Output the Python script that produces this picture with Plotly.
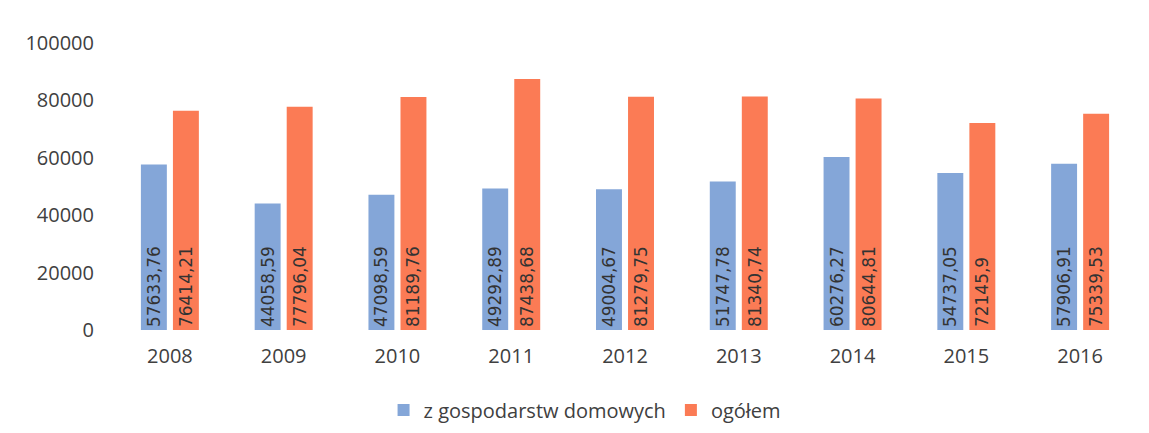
import plotly.graph_objects as go

years = ["2008", "2009", "2010", "2011", "2012", "2013", "2014", "2015", "2016"]
households = [57633.76, 44058.59, 47098.59, 49292.89, 49004.67, 51747.78, 60276.27, 54737.05, 57906.91]
total = [76414.21, 77796.04, 81189.76, 87438.68, 81279.75, 81340.74, 80644.81, 72145.9, 75339.53]
y_ticks = [0, 20000, 40000, 60000, 80000, 100000]

def fmt(v):
    return str(v).replace(".", ",")

label_font = dict(family="DejaVu Sans", size=17, color="#333333")

fig = go.Figure()
fig.add_trace(go.Bar(
    x=years, y=households, name="z gospodarstw domowych",
    marker=dict(color="#84A6D8", line=dict(width=0)),
    text=[fmt(v) for v in households], textposition="inside",
    insidetextanchor="start", textangle=-90, textfont=label_font,
))
fig.add_trace(go.Bar(
    x=years, y=total, name="ogółem",
    marker=dict(color="#FB7B55", line=dict(width=0)),
    text=[fmt(v) for v in total], textposition="inside",
    insidetextanchor="start", textangle=-90, textfont=label_font,
))

fig.update_layout(
    width=1149, height=433,
    margin=dict(l=105, r=20, t=35, b=111),
    paper_bgcolor="white", plot_bgcolor="white",
    barmode="group", bargap=0.437, bargroupgap=0.19,
    font=dict(family="Open Sans", size=20, color="#404040"),
    uniformtext=dict(minsize=10, mode="show"),
    legend=dict(orientation="h", x=0.461, xanchor="center", y=-0.279, yanchor="middle",
                font=dict(size=20, color="#404040"), itemwidth=30),
    showlegend=True,
)
fig.update_xaxes(showgrid=False, showline=False, ticks="", ticklabelstandoff=12,
                 tickfont=dict(size=20, color="#404040"))
fig.update_yaxes(range=[0, 100000], tickvals=y_ticks, ticktext=[str(t) for t in y_ticks],
                 showgrid=False, zeroline=False, showline=False, ticks="", ticklabelstandoff=18,
                 tickfont=dict(size=20, color="#404040"))

fig.write_html("out.html")
